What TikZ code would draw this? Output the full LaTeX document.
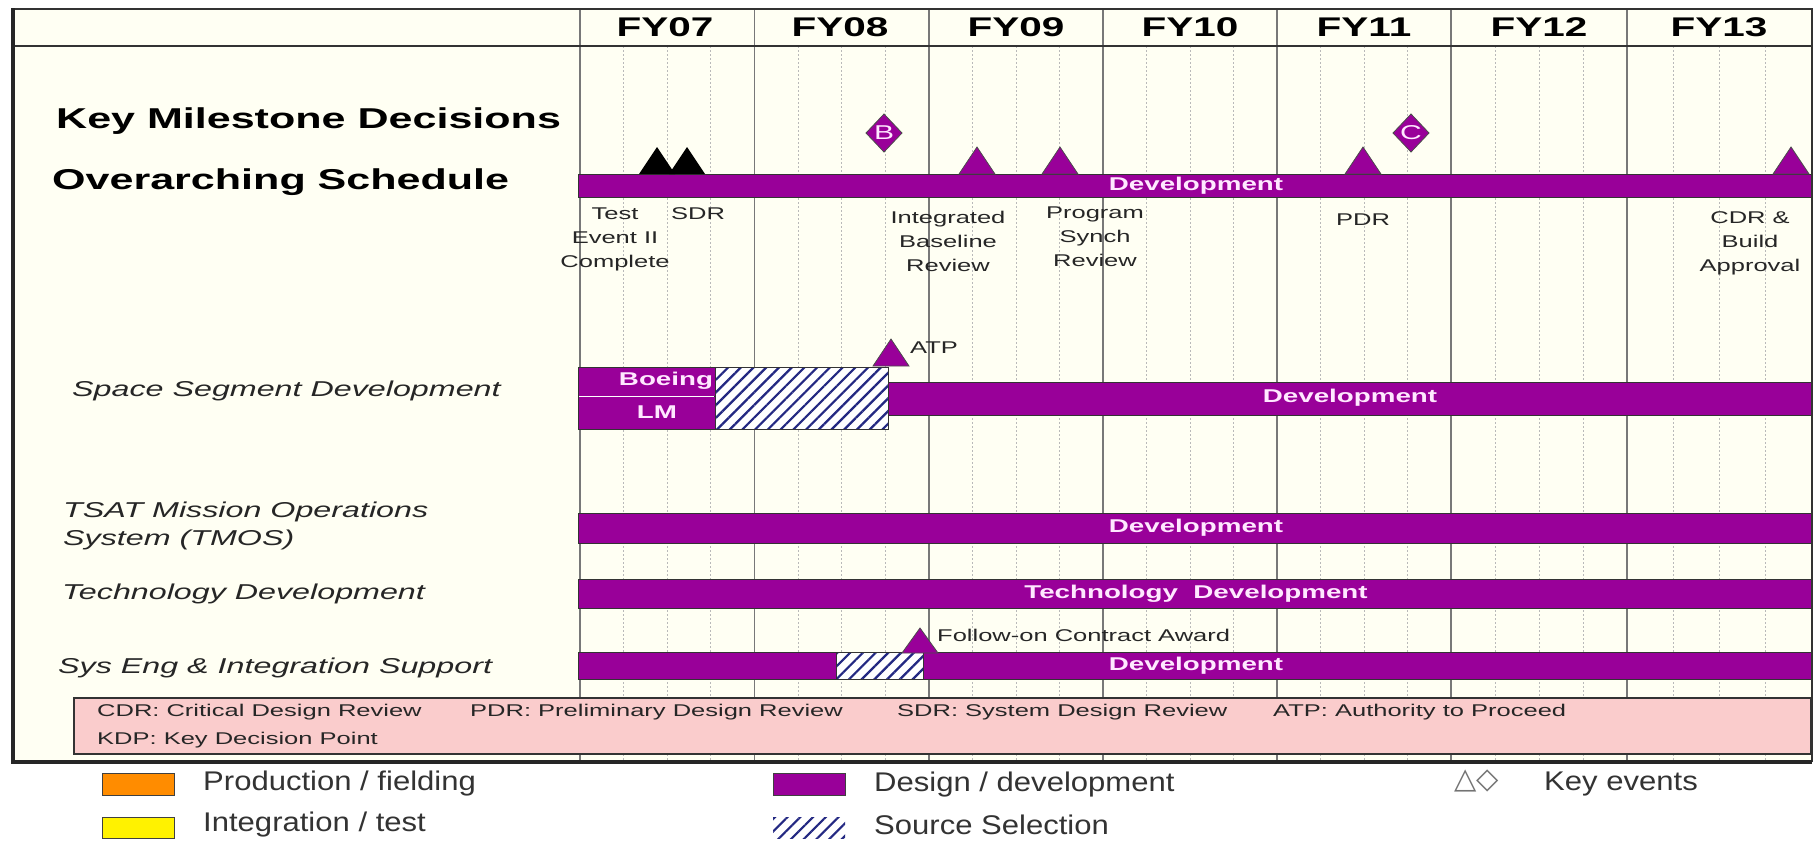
\documentclass[tikz,border=0pt]{standalone}
\usepackage{fontspec}
\setmainfont{Liberation Sans}[FakeStretch=1.5]
\newfontfamily\legf{Liberation Sans}[FakeStretch=1.15]
\newfontfamily\symf{DejaVu Sans}
\usetikzlibrary{patterns.meta}
\definecolor{purp}{RGB}{153,0,153}
\definecolor{cream}{RGB}{255,255,243}
\definecolor{pinkbox}{RGB}{250,204,204}
\definecolor{navyh}{RGB}{35,40,130}
\definecolor{gridc}{RGB}{120,120,120}
\definecolor{minorc}{RGB}{185,185,185}
\definecolor{orangel}{RGB}{255,140,0}
\definecolor{labw}{RGB}{255,232,255}
\begin{document}
\begin{tikzpicture}[x=1pt,y=-1pt,
  bar/.style={fill=purp,draw=black!80,line width=1pt},
  hatchfill/.style={pattern={Lines[angle=45,distance=9pt,line width=2.2pt]},pattern color=navyh},
  outline/.style={draw=black!80,line width=1pt},
  barlab/.style={text=labw,font=\bfseries\fontsize{18.5}{20}\selectfont,inner sep=0},
  hdr/.style={font=\bfseries\fontsize{27}{30}\selectfont,inner sep=0},
  big/.style={font=\bfseries\fontsize{28.7}{32}\selectfont,anchor=west,inner sep=0},
  rowlab/.style={font=\itshape\fontsize{21.5}{27.5}\selectfont,anchor=west,align=left,inner sep=0,text=black!85},
  ms/.style={font=\fontsize{17}{24}\selectfont,align=center,inner sep=0,text=black!85},
  acr/.style={font=\fontsize{17}{20}\selectfont,anchor=west,inner sep=0,text=black!85},
  leg/.style={font=\legf\fontsize{27}{30}\selectfont,anchor=west,inner sep=0,text=black!80},
  tri/.style={fill=purp,draw=black!70,line width=0.8pt},
  minorline/.style={draw=minorc,line width=0.8pt,dash pattern=on 2pt off 2pt},
  majorline/.style={draw=gridc,line width=1.2pt}
]
\useasboundingbox (0,0) rectangle (1820,841);
\fill[white] (0,0) rectangle (1820,841);
% frame background
\fill[cream] (13,9) rectangle (1812,761);
% minor grid
\foreach \a/\b in {580/754.5,754.5/929,929/1103,1103/1277,1277/1451,1451/1627,1627/1811}{
  \foreach \k in {1,2,3}{
    \draw[minorline] ({\a+\k*(\b-\a)/4},46) -- ({\a+\k*(\b-\a)/4},761);
  }
}
% major grid
\foreach \x in {580,754.5,929,1103,1277,1451,1627}{
  \draw[majorline] (\x,9) -- (\x,761);
}
\draw[draw=black!80,line width=1.6pt] (13,46) -- (1812,46);
% headers
\node[hdr] (fy07) at (665,27) {FY07};
\node[hdr] (fy08) at (840,27) {FY08};
\node[hdr] (fy09) at (1016,27) {FY09};
\node[hdr] (fy10) at (1190,27) {FY10};
\node[hdr] (fy11) at (1364,27) {FY11};
\node[hdr] (fy12) at (1539,27) {FY12};
\node[hdr] (fy13) at (1719,27) {FY13};
% left labels
\node[big] (kmd) at (56,121) {Key Milestone Decisions};
\node[big] (ovs) at (52,182) {Overarching Schedule};
\node[rowlab] (ssd) at (72,391) {Space Segment Development};
\node[rowlab] (tmos) at (63,526) {TSAT Mission Operations\\System (TMOS)};
\node[rowlab] (techd) at (62,594) {Technology Development};
\node[rowlab] (seis) at (58,668) {Sys Eng \& Integration Support};
% overarching bar
\draw[bar] (578,174) rectangle (1811,197);
\node[barlab] (ovdev) at (1196,186) {Development};
% milestones
\fill[black] (639,174) -- (657,147) -- (675,174) -- cycle;
\fill[black] (669,174) -- (687,147) -- (705,174) -- cycle;
\foreach \x in {977,1060,1363,1791}{
  \draw[tri] ({\x-18},174) -- (\x,147) -- ({\x+18},174) -- cycle;
}
\draw[tri] (884,114) -- (902,133) -- (884,152) -- (866,133) -- cycle;
\node[text=labw,font=\fontsize{20}{20}\selectfont,inner sep=0] (kdpb) at (884,133) {B};
\draw[tri] (1411,114) -- (1429,133) -- (1411,152) -- (1393,133) -- cycle;
\node[text=labw,font=\fontsize{20}{20}\selectfont,inner sep=0] (kdpc) at (1411,133) {C};
% milestone labels
\node[ms] (te2) at (615,239) {Test\\Event II\\Complete};
\node[ms] (sdr) at (698,214) {SDR};
\node[ms] (ibr) at (948,241) {Integrated\\Baseline\\Review};
\node[ms] (psr) at (1095,237) {Program\\Synch\\Review};
\node[ms] (pdr) at (1363,220) {PDR};
\node[ms] (cdr) at (1750,243) {CDR \&\\Build\\Approval};
% space segment
\draw[bar] (578,367) rectangle (715,396);
\draw[bar] (578,396) rectangle (715,429);
\draw[draw=white,line width=1pt] (579,396) -- (714,396);
\node[barlab] (boeing) at (666,381) {Boeing};
\node[barlab] (lm) at (657,412) {LM};
\fill[white] (715,367) rectangle (888,429);
\fill[hatchfill] (715,367) rectangle (888,429);
\draw[outline] (715,367) rectangle (888,429);
\draw[bar] (888,382) rectangle (1811,415);
\node[barlab] (ssdev) at (1350,398) {Development};
\draw[tri] (873,366) -- (891,339) -- (909,366) -- cycle;
\node[ms,anchor=west] (atp) at (910,348) {ATP};
% TMOS
\draw[bar] (578,513) rectangle (1811,543);
\node[barlab] (tmdev) at (1196,528) {Development};
% technology
\draw[bar] (578,579) rectangle (1811,608);
\node[barlab] (tddev) at (1196,594) {Technology\ \ Development};
% sys eng
\draw[bar] (578,652) rectangle (836,679);
\fill[white] (836,652) rectangle (923,679);
\fill[hatchfill] (836,652) rectangle (923,679);
\draw[outline] (836,652) rectangle (923,679);
\draw[bar] (923,652) rectangle (1811,679);
\node[barlab] (sedev) at (1196,666) {Development};
\draw[tri] (902,653) -- (920,628) -- (938,653) -- cycle;
\node[ms,anchor=west] (foca) at (937,635) {Follow-on Contract Award};
% acronym box
\draw[fill=pinkbox,draw=black!80,line width=1.2pt] (74,698) rectangle (1811,754);
\node[acr] (a1) at (97,712) {CDR: Critical Design Review};
\node[acr] (a2) at (470,712) {PDR: Preliminary Design Review};
\node[acr] (a3) at (897,712) {SDR: System Design Review};
\node[acr] (a4) at (1273,712) {ATP: Authority to Proceed};
\node[acr] (a5) at (97,740) {KDP: Key Decision Point};
% frame
\draw[draw=black!80,line width=2pt] (13,9) rectangle (1812,761);
\draw[draw=black!85,line width=3.5pt] (13,8) -- (13,762) -- (1812,762);
% legend
\draw[fill=orangel,draw=black!75,line width=1pt] (102,773) rectangle (174,795);
\node[leg] (lg1) at (203,784) {Production / fielding};
\draw[fill=yellow,draw=black!75,line width=1pt] (102,817) rectangle (174,838);
\node[leg] (lg2) at (203,825) {Integration / test};
\draw[fill=purp,draw=black!75,line width=1pt] (773,773) rectangle (845,795);
\node[leg] (lg3) at (874,785) {Design / development};
\fill[white] (773,817) rectangle (845,838);
\fill[hatchfill] (773,817) rectangle (845,838);
\node[leg] (lg4) at (874,825) {Source Selection};
\node[anchor=west,inner sep=0,text=black!55,font=\symf\fontsize{29}{30}\selectfont] (lgsym) at (1454,781) {△◇};
\node[leg] (lg5) at (1544,784) {Key events};
\end{tikzpicture}
\end{document}
